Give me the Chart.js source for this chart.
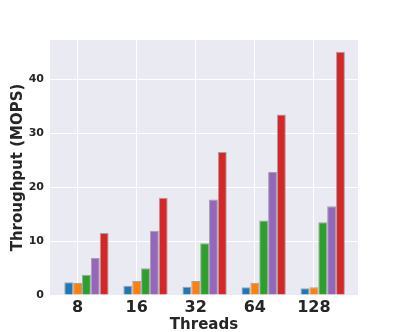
<!DOCTYPE html>
<html>
<head>
<meta charset="utf-8">
<script src="https://cdn.jsdelivr.net/npm/chart.js@4/dist/chart.umd.min.js"></script>
<style>
  html, body { margin: 0; padding: 0; background: #ffffff; }
  #wrap { width: 399px; height: 332px; }
</style>
</head>
<body>
<div id="wrap"><canvas id="c" width="399" height="332"></canvas></div>
<script>
const THREADS = ['8', '16', '32', '64', '128'];
const SERIES_A = [2.36, 1.73, 1.55, 1.42, 1.24];   // blue
const SERIES_B = [2.23, 2.60, 2.60, 2.29, 1.42];   // orange
const SERIES_C = [3.77, 4.95, 9.60, 13.8, 13.5];   // green
const SERIES_D = [6.86, 11.9, 17.7, 22.8, 16.45];  // purple
const SERIES_E = [11.5, 18.05, 26.5, 33.45, 45.1]; // red
const Y_TICKS = [0, 10, 20, 30, 40];

const COLORS = ['#1f77b4', '#ff7f0e', '#2ca02c', '#9467bd', '#d62728'];
const BAR_W = 0.15;            // bar width in category units
const GROUP_SHIFT = BAR_W;     // ticks sit under the second bar of each group

const allSeries = [SERIES_A, SERIES_B, SERIES_C, SERIES_D, SERIES_E];
const datasets = allSeries.map((vals, k) => ({
  data: vals.map((v, i) => ({ x: i + GROUP_SHIFT, y: v })),
  backgroundColor: COLORS[k],
  borderColor: 'rgba(150,150,150,0.85)',
  borderWidth: 1,
  categoryPercentage: BAR_W * allSeries.length,
  barPercentage: 1.0
}));

const bgPlugin = {
  id: 'plotBg',
  beforeDraw(chart) {
    const { ctx, chartArea: a } = chart;
    ctx.save();
    ctx.fillStyle = '#EAEAF2';
    ctx.fillRect(a.left, a.top, a.right - a.left, a.bottom - a.top);
    ctx.restore();
  }
};

const FONT = 'DejaVu Sans';

new Chart(document.getElementById('c'), {
  type: 'bar',
  data: { datasets },
  plugins: [bgPlugin],
  options: {
    responsive: false,
    animation: false,
    events: [],
    layout: { padding: { left: 0, right: 41, top: 40, bottom: 0 } },
    plugins: { legend: { display: false }, tooltip: { enabled: false } },
    scales: {
      x: {
        type: 'linear',
        offset: false,
        min: -0.467,
        max: 4.747,
        afterBuildTicks: s => { s.ticks = THREADS.map((_, i) => ({ value: i })); },
        afterFit: s => { s.height = 37; },
        grid: { color: '#ffffff', lineWidth: 1, drawTicks: false, offset: false },
        border: { display: false },
        ticks: {
          padding: 3,
          color: '#262626',
          font: { family: FONT, size: 16, weight: 'bold' },
          callback: (v) => THREADS[Math.round(v)] ?? ''
        },
        title: {
          display: true,
          text: 'Threads',
          color: '#262626',
          padding: { top: 0, bottom: -2 },
          font: { family: FONT, size: 15, weight: 'bold' }
        }
      },
      y: {
        min: 0,
        max: 47.28,
        afterBuildTicks: s => { s.ticks = Y_TICKS.map(v => ({ value: v })); },
        afterFit: s => { s.width = 50; },
        grid: { color: '#ffffff', lineWidth: 1, drawTicks: false },
        border: { display: false },
        ticks: {
          padding: 6,
          color: '#262626',
          font: { family: FONT, size: 11, weight: 'bold' }
        },
        title: {
          display: true,
          text: 'Throughput (MOPS)',
          color: '#262626',
          padding: { top: 9, bottom: 0 },
          font: { family: FONT, size: 15, weight: 'bold' }
        }
      }
    }
  }
});
</script>
</body>
</html>
